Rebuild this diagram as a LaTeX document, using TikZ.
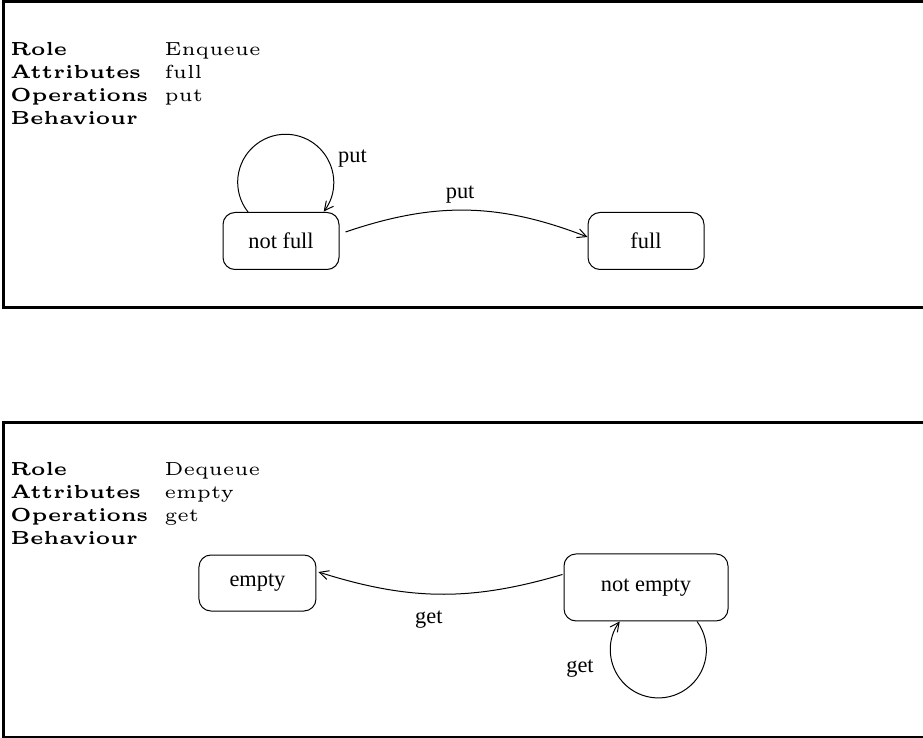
\documentclass[tikz,border=0pt]{standalone}
\usepackage{fontspec}
\newfontfamily\figfont{lmroman5}[Extension=.otf,UprightFont=*-regular,BoldFont=*-bold]
\newfontfamily\statefont{Liberation Serif}
\usetikzlibrary{positioning,arrows.meta}

\begin{document}
\begin{tikzpicture}[node distance=200.75pt,on grid,
    statebox/.style={draw,rounded corners=6.6pt,line width=0.55pt,
      minimum width=63.8pt,minimum height=31.35pt,font=\statefont\fontsize{12.3}{14}\selectfont},
    lbl/.style={font=\statefont\fontsize{12.3}{14}\selectfont},
    trans/.style={line width=0.55pt,-{Straight Barb[length=5pt,width=5pt]}},
    frame/.style={line width=1.65pt},
    header/.style={anchor=base west,inner sep=0pt,font=\figfont\fontsize{10.4}{12.65}\selectfont}]
  \useasboundingbox (0,0) rectangle (507.65pt,-405.9pt);

  % Enqueue role
  \draw[frame] (511.5pt,-0.8pt) -- (1.65pt,-0.8pt) -- (1.65pt,-169.4pt) -- (511.5pt,-169.4pt);
  \node[header] (enq) at (5.5pt,-30.5pt) {\begin{tabular}[t]{@{}l@{\hspace{9pt}}l}
      \textbf{Role} & Enqueue\\
      \textbf{Attributes} & full\\
      \textbf{Operations} & put\\
      \textbf{Behaviour} &
    \end{tabular}};
  \node[statebox] (notfull) at (154.55pt,-132.55pt) {not full};
  \node[statebox] (full) [right=of notfull] {full};
  \node[lbl] (putself) at ([xshift=7.15pt,yshift=29.15pt]notfull.north east) {put};

  % Dequeue role
  \draw[frame] (511.5pt,-232.4pt) -- (1.65pt,-232.4pt) -- (1.65pt,-405.35pt) -- (511.5pt,-405.35pt);
  \node[header] (deq) at (5.5pt,-261.5pt) {\begin{tabular}[t]{@{}l@{\hspace{9pt}}l}
      \textbf{Role} & Dequeue\\
      \textbf{Attributes} & empty\\
      \textbf{Operations} & get\\
      \textbf{Behaviour} &
    \end{tabular}};
  \node[statebox,minimum width=64.35pt,minimum height=30.8pt] (empty) at (141.6pt,-320.65pt) {empty};
  \node[statebox,minimum width=90.2pt,minimum height=36.85pt] (notempty)
    [below right=2.45pt and 213.7pt of empty] {not empty};
  \node[lbl] (getself) at ([xshift=-36.3pt,yshift=-25.85pt]notempty.south) {get};

  % self loops
  \draw[trans] ([xshift=-18.15pt]notfull.north)
    arc[start angle=218.3,end angle=-37.6,radius=26.4pt];
  \draw[trans] ([xshift=28.05pt]notempty.south)
    arc[start angle=36.4,end angle=-216.4,radius=26.4pt];

  \path[trans]
    ([xshift=3.3pt,yshift=4.95pt]notfull.east) edge[bend left=20]
      node[lbl,pos=0.47,above=0pt] {put} ([yshift=2.2pt]full.west)
    ([xshift=-0.55pt,yshift=7.15pt]notempty.west) edge[bend left=17]
      node[lbl,pos=0.55,below=6pt] {get} ([xshift=1.1pt,yshift=6.05pt]empty.east);
\end{tikzpicture}
\end{document}
